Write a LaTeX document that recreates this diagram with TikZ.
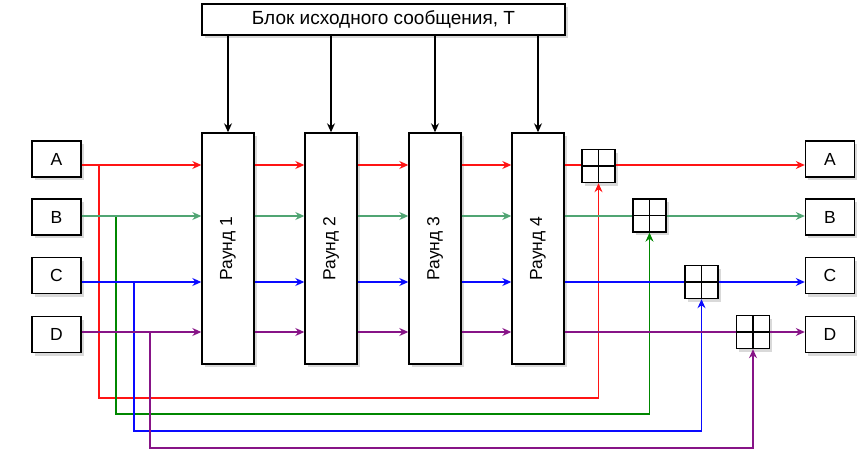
\documentclass[tikz,border=0pt]{standalone}
\usepackage{fontspec}
\setmainfont{Liberation Sans}
\usetikzlibrary{arrows.meta, positioning, shadows}

\definecolor{lineA}{RGB}{255,20,20}
\definecolor{lineB}{RGB}{80,165,115}
\definecolor{backB}{RGB}{0,135,0}
\definecolor{lineC}{RGB}{10,10,255}
\definecolor{lineD}{RGB}{135,20,135}

\begin{document}
\begin{tikzpicture}[
  x=1pt, y=-1pt,
  font=\fontsize{17.5}{20}\selectfont,
  box/.style={draw=black, fill=white, line width=1.4pt, inner sep=0pt,
    drop shadow={shadow xshift=2.5pt, shadow yshift=-3pt, opacity=0.3}},
  letter/.style={box, minimum width=49pt, minimum height=36pt},
  round/.style={box, minimum width=52pt, minimum height=231pt},
  xor/.style={box, minimum size=33pt,
    path picture={\draw[line width=1.4pt]
      (path picture bounding box.north) -- (path picture bounding box.south)
      (path picture bounding box.west) -- (path picture bounding box.east);}},
  arr/.style={-{Stealth[length=9pt, width=8pt, inset=3pt]}},
  line width=1.2pt
]
\useasboundingbox (0,0) rectangle (863,460);

% Nodes
\node[box, minimum width=363pt, minimum height=31pt, font=\fontsize{19}{22}\selectfont] (T) at (383.5,19.5) {Блок исходного сообщения, T};

\node[round, label={[rotate=90]center:Раунд 1}] (R1) at (228,248.5) {};
\node[round, label={[rotate=90]center:Раунд 2}] (R2) at (331,248.5) {};
\node[round, label={[rotate=90]center:Раунд 3}] (R3) at (435,248.5) {};
\node[round, label={[rotate=90]center:Раунд 4}] (R4) at (538,248.5) {};

\node[letter] (A) at (56.5,159) {A};
\node[letter] (B) at (56.5,217) {B};
\node[letter] (C) at (56.5,275.5) {C};
\node[letter] (D) at (56.5,334.5) {D};

\node[letter] (A2) at (830,159) {A};
\node[letter] (B2) at (830,217) {B};
\node[letter] (C2) at (830,275.5) {C};
\node[letter] (D2) at (830,334.5) {D};

\node[xor] (X1) at (598.5,166) {};
\node[xor] (X2) at (649.5,215.5) {};
\node[xor] (X3) at (701.5,282) {};
\node[xor] (X4) at (753,332) {};

% rows and feedback corners
\coordinate (yA) at (0,165);
\coordinate (yB) at (0,216);
\coordinate (yC) at (0,282);
\coordinate (yD) at (0,332);
\coordinate (fA) at (99,398);
\coordinate (fB) at (116,414);
\coordinate (fC) at (134,431);
\coordinate (fD) at (150,448);

% Arrows
\draw[arr] (T.south -| R1) -- (R1.north);
\draw[arr] (T.south -| R2) -- (R2.north);
\draw[arr] (T.south -| R3) -- (R3.north);
\draw[arr] (T.south -| R4) -- (R4.north);

% feedback lines
\draw[lineA, arr] (fA |- yA) -- (fA) -- (X1 |- fA) -- (X1.south);
\draw[backB, arr] (fB |- yB) -- (fB) -- (X2 |- fB) -- (X2.south);
\draw[lineC, arr] (fC |- yC) -- (fC) -- (X3 |- fC) -- (X3.south);
\draw[lineD, arr] (fD |- yD) -- (fD) -- (X4 |- fD) -- (X4.south);

% row A
\draw[lineA, arr] (A.east |- yA) -- (R1.west |- yA);
\draw[lineA, arr] (R1.east |- yA) -- (R2.west |- yA);
\draw[lineA, arr] (R2.east |- yA) -- (R3.west |- yA);
\draw[lineA, arr] (R3.east |- yA) -- (R4.west |- yA);
\draw[lineA] (R4.east |- yA) -- (X1.west |- yA);
\draw[lineA, arr] (X1.east |- yA) -- (A2.west |- yA);

% row B
\draw[lineB, arr] (B.east |- yB) -- (R1.west |- yB);
\draw[lineB, arr] (R1.east |- yB) -- (R2.west |- yB);
\draw[lineB, arr] (R2.east |- yB) -- (R3.west |- yB);
\draw[lineB, arr] (R3.east |- yB) -- (R4.west |- yB);
\draw[lineB] (R4.east |- yB) -- (X2.west |- yB);
\draw[lineB, arr] (X2.east |- yB) -- (B2.west |- yB);

% row C
\draw[lineC, arr] (C.east |- yC) -- (R1.west |- yC);
\draw[lineC, arr] (R1.east |- yC) -- (R2.west |- yC);
\draw[lineC, arr] (R2.east |- yC) -- (R3.west |- yC);
\draw[lineC, arr] (R3.east |- yC) -- (R4.west |- yC);
\draw[lineC] (R4.east |- yC) -- (X3.west |- yC);
\draw[lineC, arr] (X3.east |- yC) -- (C2.west |- yC);

% row D
\draw[lineD, arr] (D.east |- yD) -- (R1.west |- yD);
\draw[lineD, arr] (R1.east |- yD) -- (R2.west |- yD);
\draw[lineD, arr] (R2.east |- yD) -- (R3.west |- yD);
\draw[lineD, arr] (R3.east |- yD) -- (R4.west |- yD);
\draw[lineD] (R4.east |- yD) -- (X4.west |- yD);
\draw[lineD, arr] (X4.east |- yD) -- (D2.west |- yD);

\end{tikzpicture}
\end{document}
